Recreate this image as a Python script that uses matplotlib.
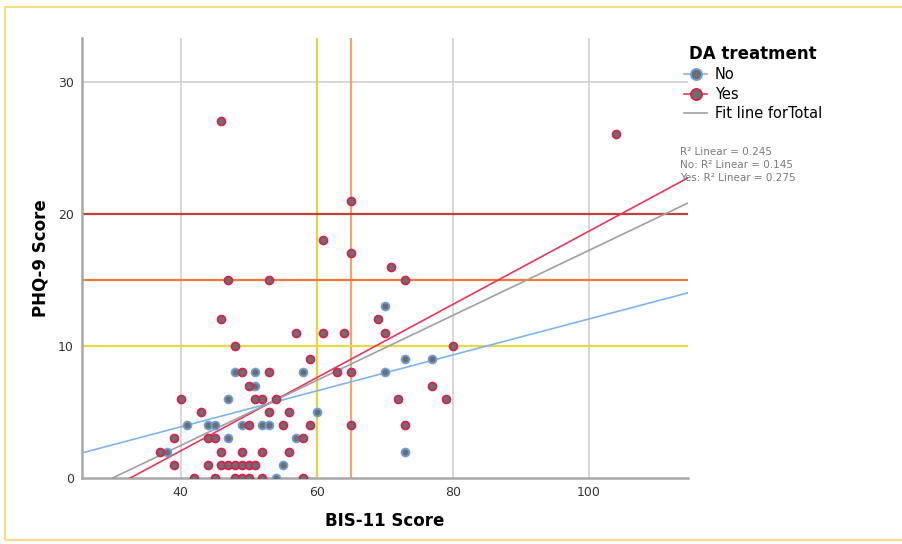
import numpy as np
import matplotlib
matplotlib.use("Agg")
import matplotlib.pyplot as plt
from matplotlib.lines import Line2D
from matplotlib.patches import Rectangle

# BIS-11 / PHQ-9 pairs
no_bis = [41, 44, 45, 49, 52, 53, 47, 57, 38, 73, 55, 54, 47, 60, 48, 51, 58, 70, 73, 77, 70, 51]
no_phq = [4, 4, 4, 4, 4, 4, 3, 3, 2, 2, 1, 0, 6, 5, 8, 8, 8, 8, 9, 9, 13, 7]

yes_bis = [46, 104, 65, 61, 65, 71, 47, 53, 73, 46, 69, 57, 61, 64, 70, 48, 80,
           59, 49, 53, 63, 65, 50, 77, 40, 51, 52, 54, 72, 79, 43, 53, 56,
           50, 55, 59, 65, 73, 39, 44, 45, 58, 37, 46, 49, 52, 56,
           39, 44, 46, 47, 48, 49, 50, 51, 42, 45, 48, 49, 50, 52, 58]
yes_phq = [27, 26, 21, 18, 17, 16, 15, 15, 15, 12, 12, 11, 11, 11, 11, 10, 10,
           9, 8, 8, 8, 8, 7, 7, 6, 6, 6, 6, 6, 6, 5, 5, 5,
           4, 4, 4, 4, 4, 3, 3, 3, 3, 2, 2, 2, 2, 2,
           1, 1, 1, 1, 1, 1, 1, 1, 0, 0, 0, 0, 0, 0, 0]

# fit lines (slope, intercept) as shown
fit_names = ["No", "Yes", "Total"]
fit_slope = [0.136, 0.277, 0.246]
fit_icept = [-1.57, -9.03, -7.38]
r2_labels = ["R\u00b2 Linear = 0.245", "No: R\u00b2 Linear = 0.145", "Yes: R\u00b2 Linear = 0.275"]

# reference lines
ref_x = [60, 65]
ref_x_colors = ["#e3d53c", "#f3a46e"]
ref_y = [10, 15, 20]
ref_y_colors = ["#e7da46", "#f2783a", "#c0403a"]

XMIN, XMAX = 25.5, 114.6
YMIN, YMAX = 0, 33.3

plt.rcParams['font.family'] = ['DejaVu Sans']

fig = plt.figure(figsize=(9.03, 5.44), dpi=100)
ax = fig.add_axes([82 / 903, 1 - 478 / 544, (688 - 82) / 903, (478 - 38) / 544])

# frame around figure
fig.patches.append(Rectangle((5 / 903, 4 / 544), 1.0, 1 - 11 / 544, transform=fig.transFigure,
                             fill=False, edgecolor="#f6dc82", linewidth=1.5))

for t in [40, 80, 100]:
    ax.axvline(t, color="#d4d4d4", lw=1.3, zorder=1)
ax.axhline(30, color="#d4d4d4", lw=1.3, zorder=1)
for v, c in zip(ref_x, ref_x_colors):
    ax.axvline(v, color=c, lw=1.6, zorder=2)
for v, c in zip(ref_y, ref_y_colors):
    ax.axhline(v, color=c, lw=1.6, zorder=2)

fit_colors = {"No": "#80b4ef", "Yes": "#e8365c", "Total": "#a0a0a0"}
xs = np.array([XMIN, XMAX])
for n, m, b in zip(fit_names, fit_slope, fit_icept):
    ax.plot(xs, m * xs + b, color=fit_colors[n], lw=1.2, zorder=3)

ax.scatter(no_bis, no_phq, s=32, facecolor="#6e6e6e", edgecolor="#6a9fe0", linewidth=1.3, zorder=4)
ax.scatter(yes_bis, yes_phq, s=32, facecolor="#6e6e6e", edgecolor="#d8214f", linewidth=1.3, zorder=5)

ax.set_xlim(XMIN, XMAX)
ax.set_ylim(YMIN, YMAX)
ax.set_xticks([40, 60, 80, 100])
ax.set_yticks([0, 10, 20, 30])
ax.tick_params(length=0, labelsize=9, labelcolor="#333333", pad=6)
for s in ["top", "right"]:
    ax.spines[s].set_visible(False)
for s in ["left", "bottom"]:
    ax.spines[s].set_color("#a8a8a8")
    ax.spines[s].set_linewidth(1.8)

fig.text(40 / 903, 1 - 258 / 544, "PHQ-9 Score", rotation=90, ha="center", va="center",
         fontsize=12, fontweight="bold")
fig.text(385 / 903, 1 - 521 / 544, "BIS-11 Score", ha="center", va="center",
         fontsize=12, fontweight="bold")

handles = [
    Line2D([], [], color=fit_colors["No"], lw=1.2, marker="o", markersize=8,
           markerfacecolor="#6e6e6e", markeredgecolor="#6a9fe0", markeredgewidth=1.3),
    Line2D([], [], color=fit_colors["Yes"], lw=1.2, marker="o", markersize=8,
           markerfacecolor="#6e6e6e", markeredgecolor="#d8214f", markeredgewidth=1.3),
    Line2D([], [], color=fit_colors["Total"], lw=1.2),
]
leg = fig.legend(handles, ["No", "Yes", "Fit line forTotal"], loc="upper left",
                 bbox_to_anchor=(684 / 903, 1 - 45 / 544), frameon=False, fontsize=10.5,
                 title="DA treatment", title_fontproperties={"weight": "bold", "size": 12},
                 handlelength=1.6, handletextpad=0.5, labelspacing=0.3, borderpad=0,
                 borderaxespad=0)

for i, t in enumerate(r2_labels):
    fig.text(680 / 903, 1 - (152 + 13 * i) / 544, t, ha="left", va="center",
             fontsize=7.5, color="#7a7a7a")

fig.savefig("out.png", dpi=100)
